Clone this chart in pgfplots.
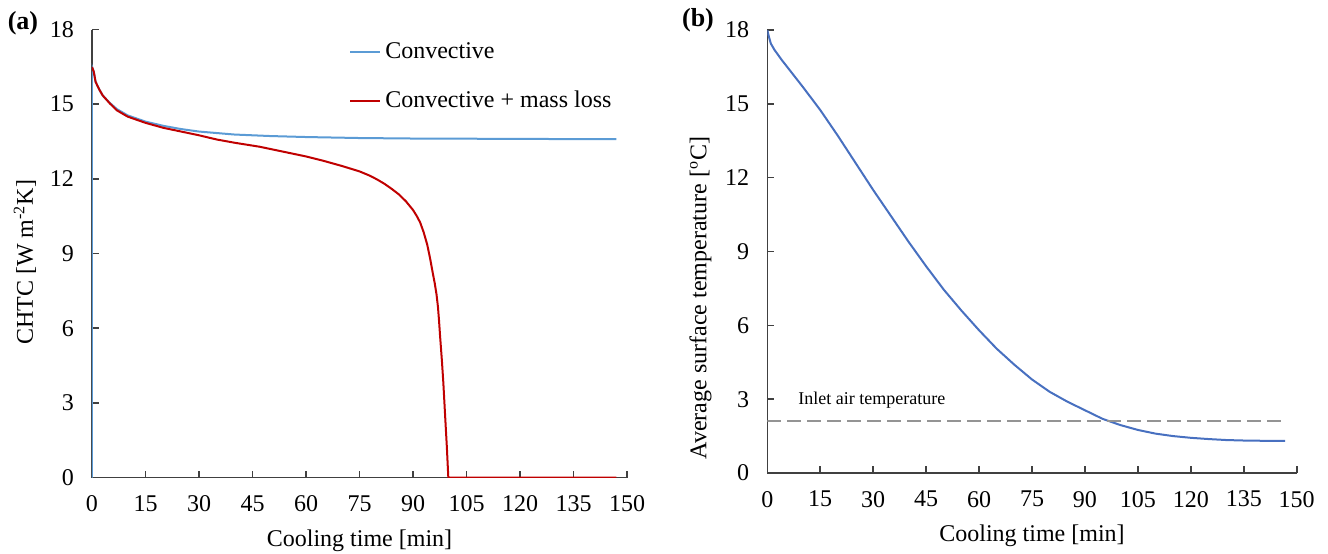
\documentclass[border=0pt]{standalone}
\usepackage{fontspec}
\setmainfont{Liberation Serif}
\usepackage{pgfplots}
\pgfplotsset{compat=1.18}
\definecolor{cblue}{RGB}{91,155,213}
\definecolor{cred}{RGB}{192,0,0}
\definecolor{cblue2}{RGB}{72,112,192}
\pgfplotsset{
  mystyle/.style={
    scale only axis,
    axis x line=bottom, axis y line=left,
    axis line style={-, black!75, line width=0.8pt},
    tick align=inside,
    major tick style={black!75, line width=0.8pt},
    major tick length=3.3pt,
    xmin=0, xmax=150, ymin=0, ymax=18,
    xtick={0,15,...,150}, ytick={0,3,...,18},
    tick label style={font=\fontsize{12}{14}\selectfont},
    /pgf/number format/assume math mode=true,
    yticklabel style={xshift=-5.5pt},
    xticklabel style={yshift=-5.5pt},
    label style={font=\fontsize{12}{14}\selectfont},
    xlabel={Cooling time [min]},
    xlabel style={yshift=-2pt},
  }
}
\begin{document}
\begin{tikzpicture}
\path[use as bounding box] (0pt,0pt) rectangle (664pt,-276.5pt);
\node[font=\bfseries\fontsize{13}{15}\selectfont] at (11.5pt,-11.5pt) {(a)};
\node[font=\bfseries\fontsize{13}{15}\selectfont] at (349pt,-10pt) {(b)};
\begin{axis}[mystyle, at={(46pt,-238.75pt)}, anchor=south west,
  width=267.5pt, height=224pt,
  ylabel={CHTC [W m\textsuperscript{-2}K]},
  ylabel style={at={(ticklabel cs:0.48)}},
  legend style={at={(rel axis cs:0.469,0.99)}, anchor=north west, draw=none, fill=none,
    font=\fontsize{12}{14}\selectfont, row sep=11pt},
  legend cell align=left,
  legend image code/.code={\draw[#1] (0pt,0pt) -- (15pt,0pt);},
]
\addplot[cblue, line width=1pt] table {
0 0
0 16.5
0.5 16.3
1 15.9
2 15.6
3 15.35
5 15.05
7 14.8
10 14.55
15 14.3
20 14.13
25 14.0
30 13.9
40 13.78
50 13.72
60 13.68
75 13.64
90 13.62
110 13.61
130 13.6
147 13.6
};
\addlegendentry{Convective}
\addplot[cred, line width=1pt] table {
0 16.5
0.5 16.3
1 15.9
2 15.6
3 15.35
5 15.03
7 14.75
10 14.5
15 14.25
20 14.05
25 13.9
30 13.75
35 13.58
40 13.45
47 13.29
55 13.05
60 12.9
65 12.72
70 12.52
75 12.3
78 12.12
80 11.97
82 11.8
84 11.6
86 11.38
88 11.1
90 10.75
91 10.52
92 10.25
93 9.85
94 9.35
94.8 8.8
95.5 8.25
96.1 7.8
96.6 7.35
97.0 6.85
97.3 6.3
97.6 5.67
98.1 4.7
98.5 3.82
99.0 2.5
99.5 1.2
99.9 0
147 0
};
\addlegendentry{Convective + mass loss}
\end{axis}
\begin{axis}[mystyle, at={(383.65pt,-236.5pt)}, anchor=south west,
  width=264.7pt, height=221.5pt,
  ylabel={Average surface temperature [\textsuperscript{o}C]},
  ylabel style={at={(ticklabel cs:0.395)}},
]
\addplot[cblue2, line width=1pt] table {
0 18.0
0.5 17.7
1 17.45
2 17.2
4 16.8
7 16.25
10 15.7
15 14.75
20 13.7
25 12.6
30 11.5
35 10.45
40 9.4
45 8.4
50 7.45
55 6.6
60 5.8
65 5.05
70 4.4
75 3.8
80 3.3
85 2.9
90 2.55
95 2.2
100 1.95
105 1.75
110 1.6
115 1.5
120 1.43
125 1.38
130 1.34
135 1.32
140 1.31
146.7 1.31
};
\addplot[black!42, line width=1pt, dash pattern=on 7pt off 3pt] coordinates {(0,2.13) (145.8,2.13)};
\node[anchor=west, inner sep=0pt, font=\fontsize{9}{11}\selectfont] at (axis cs:8.7,2.97) {Inlet air temperature};
\end{axis}
\end{tikzpicture}
\end{document}
